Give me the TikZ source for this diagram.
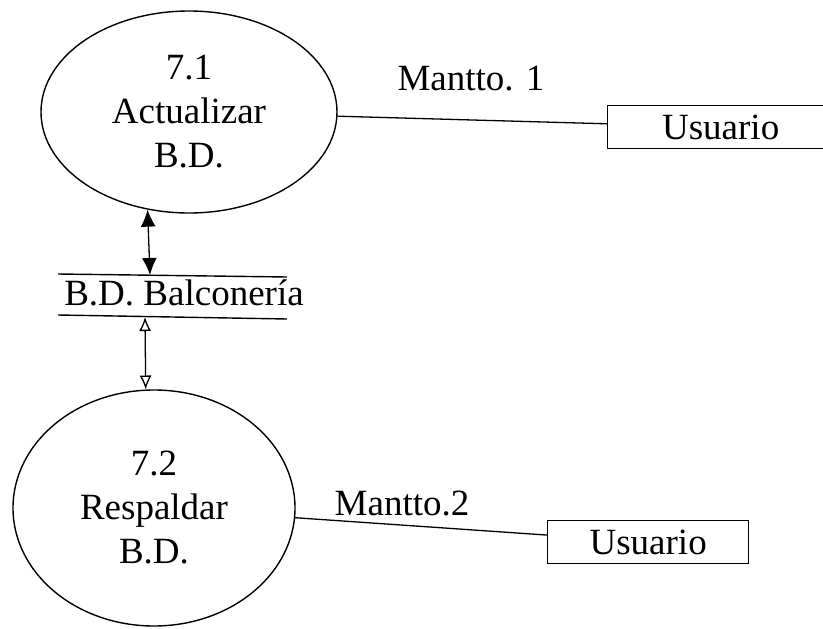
\documentclass[tikz,border=0pt]{standalone}
\usepackage{fontspec}
\setmainfont{Liberation Serif}
\usetikzlibrary{shapes.geometric,arrows.meta}

\begin{document}
\begin{tikzpicture}[x=1pt,y=-1pt,font=\fontsize{37}{44}\selectfont]

    \tikzset{procstyle/.style={draw,shape=ellipse,line width=1.4pt,align=center,inner sep=0pt}}
    \tikzset{userstyle/.style={draw,shape=rectangle,line width=1.4pt,anchor=west,minimum height=43pt,inner sep=0pt}}
    \useasboundingbox (0,0) rectangle (823,629);

    \node[procstyle,minimum width=296pt,minimum height=202pt] (p71) at (189,112) {7.1\\Actualizar\\B.D.};
    \node[procstyle,minimum width=282pt,minimum height=236pt] (p72) at (154,508) {7.2\\Respaldar\\B.D.};

    \node[userstyle,minimum width=226pt] (u1) at (607,127) {Usuario};
    \node[userstyle,minimum width=201pt] (u2) at (547,542) {Usuario};

    \node (bd) at (184,293) {B.D. Balconería};
    \coordinate (s1) at (150,275);
    \coordinate (s2) at (145,317);
    \draw[line width=1.4pt] (58,274) -- (287,277);
    \draw[line width=1.4pt] (58,315) -- (287,319);

    \node (m1) at (471,79) {Mantto. 1};
    \node (m2) at (402,504) {Mantto.2};

    \begin{scope}[every path/.style={line width=1.3pt}]
        \draw (p71) -- (u1);
        \draw (p72) -- (u2);
        \draw[{Latex[length=17pt,width=15pt]}-{Latex[length=17pt,width=15pt]}] (p71.247) -- (s1);
        \draw[{Latex[open,length=14pt,width=12pt]}-{Latex[open,length=14pt,width=12pt]}] (s2) -- (p72.94);
    \end{scope}
\end{tikzpicture}
\end{document}
